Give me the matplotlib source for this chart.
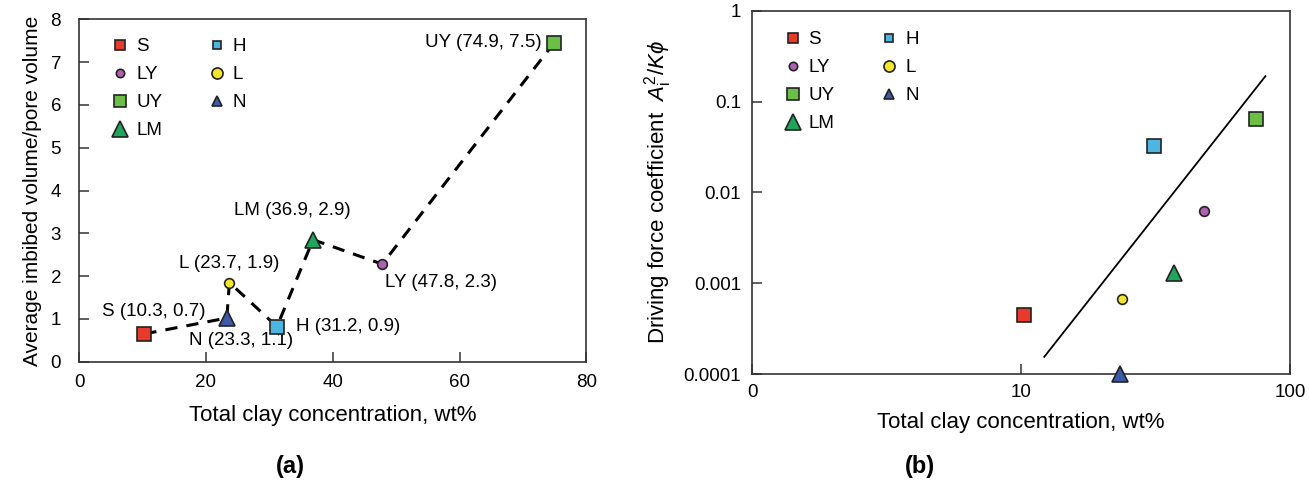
import numpy as np
import matplotlib.pyplot as plt
from matplotlib.lines import Line2D
from matplotlib.ticker import FixedLocator, FixedFormatter

plt.rcParams['font.family'] = ['Liberation Sans', 'DejaVu Sans']
plt.rcParams['mathtext.fontset'] = 'custom'
plt.rcParams['mathtext.it'] = 'Liberation Sans:italic'
plt.rcParams['mathtext.rm'] = 'Liberation Sans'

# samples, in plotting order along the dashed line of panel (a)
names = ['S', 'N', 'L', 'H', 'LM', 'LY', 'UY']
clay = [10.3, 23.3, 23.7, 31.2, 36.9, 47.8, 74.9]
imbibed = [0.65, 1.02, 1.85, 0.82, 2.85, 2.28, 7.45]
labels_a = ['S (10.3, 0.7)', 'N (23.3, 1.1)', 'L (23.7, 1.9)', 'H (31.2, 0.9)',
            'LM (36.9, 2.9)', 'LY (47.8, 2.3)', 'UY (74.9, 7.5)']
# panel (b): driving force coefficient A_i^2 / K phi
driving = [0.00045, 0.0001, 0.00067, 0.0325, 0.0013, 0.0062, 0.064]
fit_x = [12.2, 81.0]
fit_y = [0.000155, 0.19]

colors = {'S': '#e8392b', 'H': '#4cb6e0', 'LY': '#b060b0', 'L': '#f4e62c',
          'UY': '#6cbf46', 'N': '#3d5aa8', 'LM': '#1fa65a'}
markers = {'S': 's', 'H': 's', 'LY': 'o', 'L': 'o', 'UY': 's', 'N': '^', 'LM': '^'}
sizes = {'S': 10, 'H': 10, 'LY': 7, 'L': 7, 'UY': 10, 'N': 11, 'LM': 11}
leg_sizes = {'S': 7, 'H': 6, 'LY': 6, 'L': 8, 'UY': 8, 'N': 7, 'LM': 12}
leg_order = ['S', 'LY', 'UY', 'LM', 'H', 'L', 'N']

# text offsets (points) and alignment for the annotations in (a)
offsets = {'S': (7, 16, 'center'), 'N': (10, -16, 'center'), 'L': (0, 14, 'center'),
           'H': (14, 0, 'left'), 'LM': (-15, 21, 'center'), 'LY': (2, -13, 'left'),
           'UY': (-9, 0, 'right')}

edge = '#222222'
fig = plt.figure(figsize=(13.09, 4.84), dpi=100)
ax1 = fig.add_axes([0.0604, 0.2527, 0.3876, 0.7073])
ax2 = fig.add_axes([0.5745, 0.227, 0.411, 0.751])


def style(ax, ypad, xpad):
    for s in ax.spines.values():
        s.set_linewidth(1.2)
        s.set_color('#333333')
    ax.tick_params(direction='in', length=7, width=1.1, labelsize=13.5,
                   color='#333333', top=False, right=False)
    ax.tick_params(axis='y', pad=ypad)
    ax.tick_params(axis='x', pad=xpad)
    ax.tick_params(which='minor', length=0)


def legend(ax, anchor):
    handles = [Line2D([], [], ls='none', marker=markers[n], ms=leg_sizes[n],
                      mfc=colors[n], mec=edge, mew=1.2, label=n) for n in leg_order]
    ax.legend(handles=handles, ncol=2, loc='upper left', frameon=False, fontsize=13.5,
              handletextpad=0.1, handlelength=1.5, columnspacing=2.15,
              labelspacing=0.58, bbox_to_anchor=anchor)


# (a)
ax1.plot(clay, imbibed, '--', color='black', lw=2.2, dashes=(4, 3), zorder=2)
for n, x, y, t in zip(names, clay, imbibed, labels_a):
    ax1.plot(x, y, ls='none', marker=markers[n], ms=sizes[n], mfc=colors[n],
             mec=edge, mew=1.2, zorder=3)
    dx, dy, ha = offsets[n]
    ax1.annotate(t, (x, y), xytext=(dx, dy), textcoords='offset points',
                 ha=ha, va='center', fontsize=13.5)
ax1.set_xlim(0, 80)
ax1.set_ylim(0, 8)
ax1.set_xticks([0, 20, 40, 60, 80])
ax1.set_yticks(range(9))
style(ax1, 13, 9)
legend(ax1, (0.02, 0.995))
ax1.set_xlabel('Total clay concentration, wt%', fontsize=16, labelpad=10)
ax1.set_ylabel('Average imbibed volume/pore volume', fontsize=15, labelpad=6)
fig.text(0.2215, 0.022, '(a)', fontsize=17, fontweight='bold', ha='center')

# (b)
ax2.set_xscale('log')
ax2.set_yscale('log')
ax2.plot(fit_x, fit_y, color='black', lw=1.3, zorder=2)
for n, x, y in zip(names, clay, driving):
    ax2.plot(x, y, ls='none', marker=markers[n], ms=sizes[n], mfc=colors[n],
             mec=edge, mew=1.2, zorder=3, clip_on=False)
ax2.set_xlim(1, 100)
ax2.set_ylim(0.0001, 1)
ax2.xaxis.set_major_locator(FixedLocator([1, 10, 100]))
ax2.xaxis.set_major_formatter(FixedFormatter(['0', '10', '100']))
ax2.yaxis.set_major_locator(FixedLocator([0.0001, 0.001, 0.01, 0.1, 1]))
ax2.yaxis.set_major_formatter(FixedFormatter(['0.0001', '0.001', '0.01', '0.1', '1']))
style(ax2, 8, 7)
legend(ax2, (0.018, 0.99))
ax2.set_xlabel('Total clay concentration, wt%', fontsize=16, labelpad=8)
ax2.set_ylabel(r'Driving force coefficient  $A_\mathregular{i}^\mathregular{2}/K\phi$',
               fontsize=16, labelpad=7)
fig.text(0.703, 0.022, '(b)', fontsize=17, fontweight='bold', ha='center')

fig.savefig('out.png', dpi=100)
